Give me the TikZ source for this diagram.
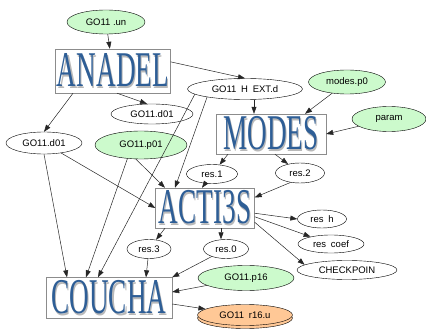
\documentclass[tikz,border=0pt]{standalone}
\usepackage{fontspec}
\setmainfont{Liberation Sans}
\newfontfamily\titlefont{Liberation Serif}
\usepackage{graphicx}
\usepackage{xcolor}
\usetikzlibrary{arrows.meta,shapes.geometric}

\definecolor{seedgreen}{RGB}{204,250,204}
\definecolor{outorange}{RGB}{255,200,150}
\definecolor{titleblue}{RGB}{46,94,150}
\definecolor{shadowgray}{RGB}{185,185,185}
\definecolor{framegray}{RGB}{140,140,140}

% program name with a grey drop shadow
\newcommand{\progname}[1]{\scalebox{0.545}[1]{\titlefont\fontsize{50}{50}\selectfont
  \rlap{\kern2pt\raisebox{-2pt}{\textcolor{shadowgray}{#1}}}\textcolor{titleblue}{#1}}}

\begin{document}
\begin{tikzpicture}[x=1pt,y=-1pt,
    datafile/.style={ellipse,draw,inner sep=0pt,font=\fontsize{9.5}{11}\selectfont},
    seedfile/.style={datafile,fill=seedgreen},
    outfile/.style={datafile,fill=outorange,
      preaction={draw,fill=outorange,transform canvas={yshift=-3pt}}},
    program/.style={rectangle,draw=framegray,fill=white,inner sep=0pt},
    link/.style={-{Triangle[length=7pt,width=5pt]},draw=black!85,line width=0.5pt}]
    \useasboundingbox (0,0) rectangle (426,334);

    % programs
    \foreach \name/\x/\y/\w/\h/\txt in {anadel/113/71/115/44/ANADEL,
        modes/271/134/110/40/MODES, acti/205/208/99/40/ACTI3S,
        coucha/109/298/126/41/COUCHA} {
      \node[program,minimum width=\w pt,minimum height=\h pt] (\name) at (\x,\y) {\progname{\txt}};
    }
    % input files
    \foreach \name/\x/\y/\w/\h/\txt in {un/106/22/78/24/GO11 .un,
        p0/347/82/77/24/modes.p0, param/389/119/74/25/param,
        p01/141/145/92/28/GO11.p01, p16/246/278/96/25/GO11.p16} {
      \node[seedfile,minimum width=\w pt,minimum height=\h pt] (\name) at (\x,\y) {\txt};
    }
    % intermediate files
    \foreach \name/\x/\y/\w/\h/\txt in {hext/245/89/115/21/GO11\enspace H\enspace EXT.d,
        d01r/152/114/82/20/GO11.d01, d01l/44/143/76/22/GO11.d01,
        res1/212/174/51/19/res.1, res2/300/173/49/20/res.2,
        resh/322/219/49/18/res\enspace h, rescoef/331/244/66/18/res\enspace coef,
        check/347/270/100/19/CHECKPOIN, res3/149/249/44/19/res.3,
        res0/226/249/45/19/res.0} {
      \node[datafile,minimum width=\w pt,minimum height=\h pt] (\name) at (\x,\y) {\txt};
    }
    \node[outfile,minimum width=95pt,minimum height=21pt] (r16) at (245,315) {GO11\enspace r16.u};

    % ANADEL
    \draw[link] (un) -- (anadel);
    \draw[link] (anadel.9) -- (hext.north);
    \draw[link] ([xshift=4pt]anadel.south) -- ([xshift=-5pt]d01r.north);
    \draw[link] ([xshift=-40pt]anadel.south) -- (d01l.north);
    % MODES
    \draw[link] ([xshift=9pt]hext.south) -- ([xshift=-17pt]modes.north);
    \draw[link] (p0) -- ([xshift=34pt]modes.north);
    \draw[link] (param) -- (modes.east);
    \draw[link] ([xshift=-43pt]modes.south) -- (res1);
    \draw[link] ([xshift=4pt]modes.south) -- (res2);
    % ACTI3S
    \draw[link] (hext.192) -- ([xshift=-30pt]acti.north);
    \draw[link] (p01.250) -- ([xshift=-40pt]acti.north);
    \draw[link] (d01l) -- (acti.west);
    \draw[link] (res1) -- ([xshift=-3pt]acti.north);
    \draw[link] (res2.225) -- (acti.12);
    \draw[link] (acti.-6) -- (resh.west);
    \draw[link] (acti.-10) -- (rescoef);
    \draw[link] (acti.-16) -- (check.173);
    \draw[link] ([xshift=-40pt]acti.south) -- (res3);
    \draw[link] ([xshift=16pt]acti.south) -- ([xshift=-5pt]res0.north);
    % COUCHA
    \draw[link] (d01l.south) -- ([xshift=-42pt]coucha.north);
    \draw[link] (p01.225) -- ([xshift=-23pt]coucha.north);
    \draw[link] (hext.186) -- ([xshift=-11pt]coucha.north);
    \draw[link] (res3) -- ([xshift=37pt]coucha.north);
    \draw[link] (res0) -- (coucha.north east);
    \draw[link] (p16) -- ([yshift=6pt]coucha.east);
    \draw[link] ([yshift=-6pt]coucha.east) -- (r16);
  \end{tikzpicture}
\end{document}
